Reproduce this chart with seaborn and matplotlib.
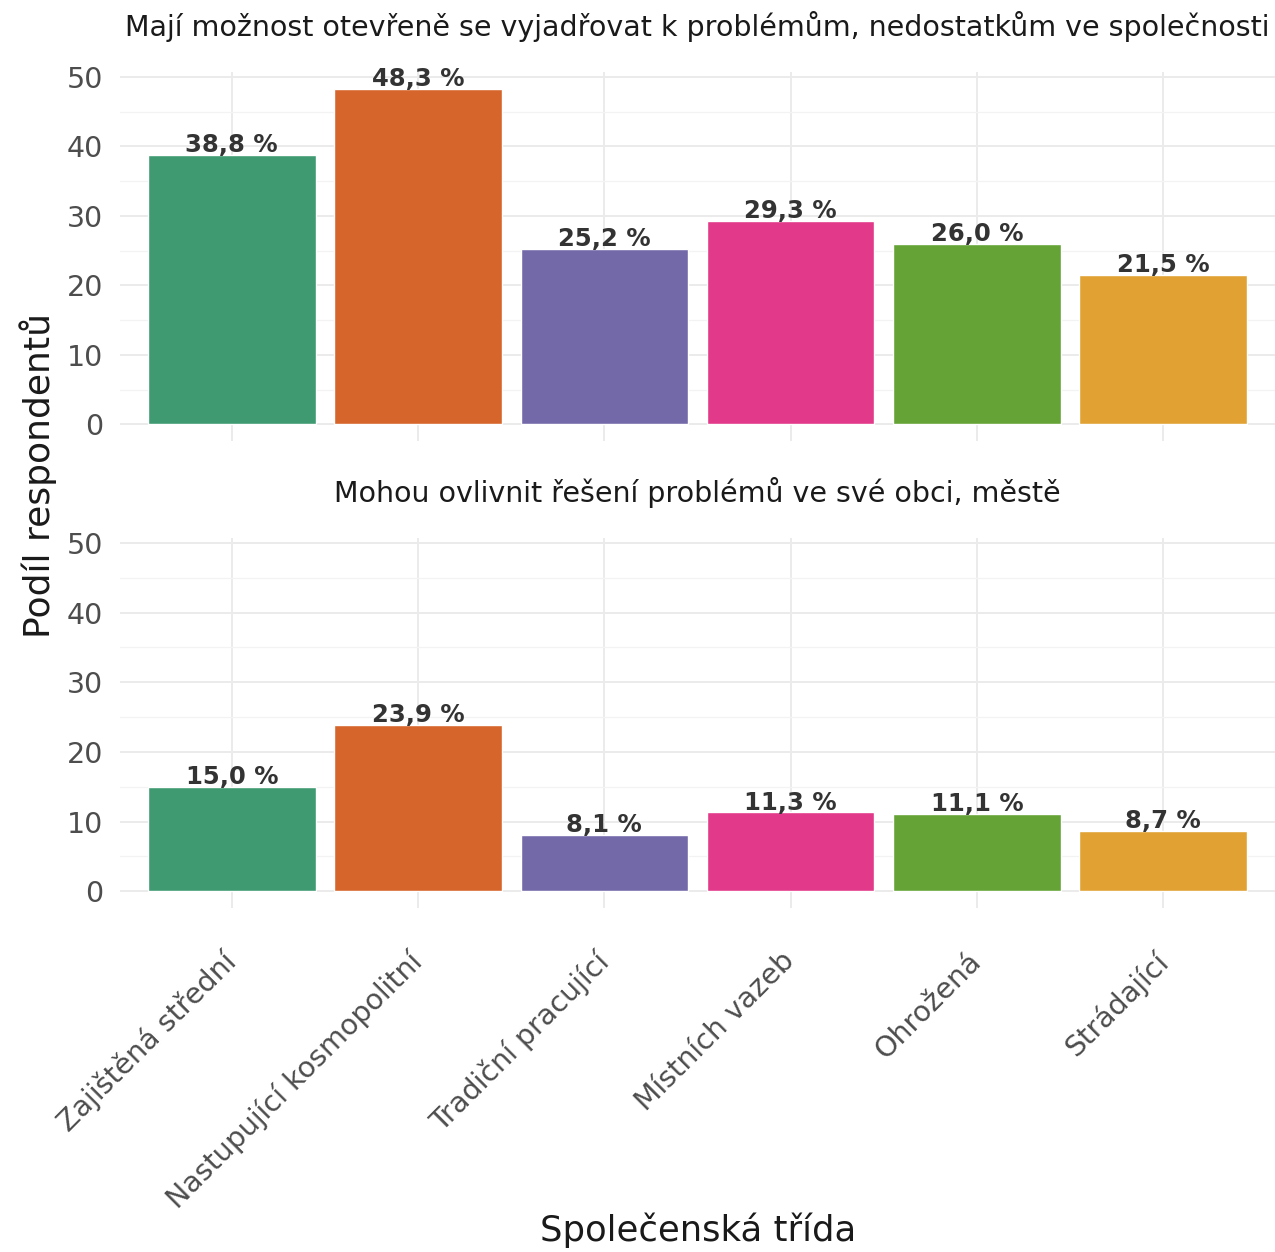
import matplotlib
matplotlib.use("Agg")
import matplotlib.pyplot as plt
import matplotlib.transforms as mtransforms
import seaborn as sns
import pandas as pd
from matplotlib.ticker import MultipleLocator

categories = ["Zajištěná střední", "Nastupující kosmopolitní", "Tradiční pracující",
              "Místních vazeb", "Ohrožená", "Strádající"]
values_top = [38.8, 48.3, 25.2, 29.3, 26.0, 21.5]
values_bottom = [15.0, 23.9, 8.1, 11.3, 11.1, 8.7]
title_top = "Mají možnost otevřeně se vyjadřovat k problémům, nedostatkům ve společnosti"
title_bottom = "Mohou ovlivnit řešení problémů ve své obci, městě"
colors = ["#3f9a72", "#d5652b", "#7469a8", "#e3398a", "#66a336", "#e1a233"]

sns.set_theme(style="white")
plt.rcParams['font.family'] = ['DejaVu Sans']

fig = plt.figure(figsize=(12.75, 12.52), dpi=100)
fig.patch.set_facecolor("white")

W, H = 1275, 1252
left = 120 / W
width = 1155 / W
ax_top = fig.add_axes([left, 1 - 441 / H, width, (441 - 72) / H])
ax_bot = fig.add_axes([left, 1 - 908 / H, width, (908 - 538) / H])

for ax, vals, title, show_x in [(ax_top, values_top, title_top, False),
                               (ax_bot, values_bottom, title_bottom, True)]:
    df = pd.DataFrame({"cat": categories, "val": vals})
    sns.barplot(data=df, x="cat", y="val", hue="cat", palette=colors, order=categories,
                hue_order=categories, dodge=False, legend=False, width=0.9, ax=ax,
                saturation=1, zorder=3)
    ax.set_xlim(-0.6, 5.6)
    ax.set_ylim(-2.415, 50.715)
    ax.yaxis.set_major_locator(MultipleLocator(10))
    ax.yaxis.set_minor_locator(MultipleLocator(5))
    ax.grid(True, which="major", axis="both", color="#ebebeb", linewidth=1.4, zorder=0)
    ax.grid(True, which="minor", axis="y", color="#f3f3f3", linewidth=0.9, zorder=0)
    for s in ax.spines.values():
        s.set_visible(False)
    ax.set_xlabel("")
    ax.set_ylabel("")
    ax.tick_params(axis="y", labelsize=20.5, labelcolor="#4d4d4d", length=0, pad=12)
    ax.set_title(title, fontsize=20.5, color="#1a1a1a", pad=26)
    for i, v in enumerate(vals):
        ax.text(i, v - 0.3, f"{v:.1f} %".replace(".", ","), ha="center", va="bottom",
                fontsize=17.5, color="#333333", fontweight="semibold", zorder=4)
    if show_x:
        ax.set_xticks(range(len(categories)))
        ax.set_xticklabels(categories, rotation=45, ha="right", rotation_mode="anchor",
                           fontsize=20.5, color="#4d4d4d")
        ax.tick_params(axis="x", length=0, pad=28)
        offset = mtransforms.ScaledTranslation(-10 / 100, 0, fig.dpi_scale_trans)
        for lbl in ax.get_xticklabels():
            lbl.set_transform(lbl.get_transform() + offset)
    else:
        ax.tick_params(axis="x", labelbottom=False, length=0)

fig.text(38 / W, 1 - 475 / H, "Podíl respondentů", rotation=90, ha="center", va="center",
         fontsize=26, color="#1a1a1a")
fig.text((120 + 1277) / 2 / W, 1 - 1230 / H, "Společenská třída", ha="center", va="center",
         fontsize=25.5, color="#1a1a1a")

fig.savefig("out.png", dpi=100, facecolor="white")
